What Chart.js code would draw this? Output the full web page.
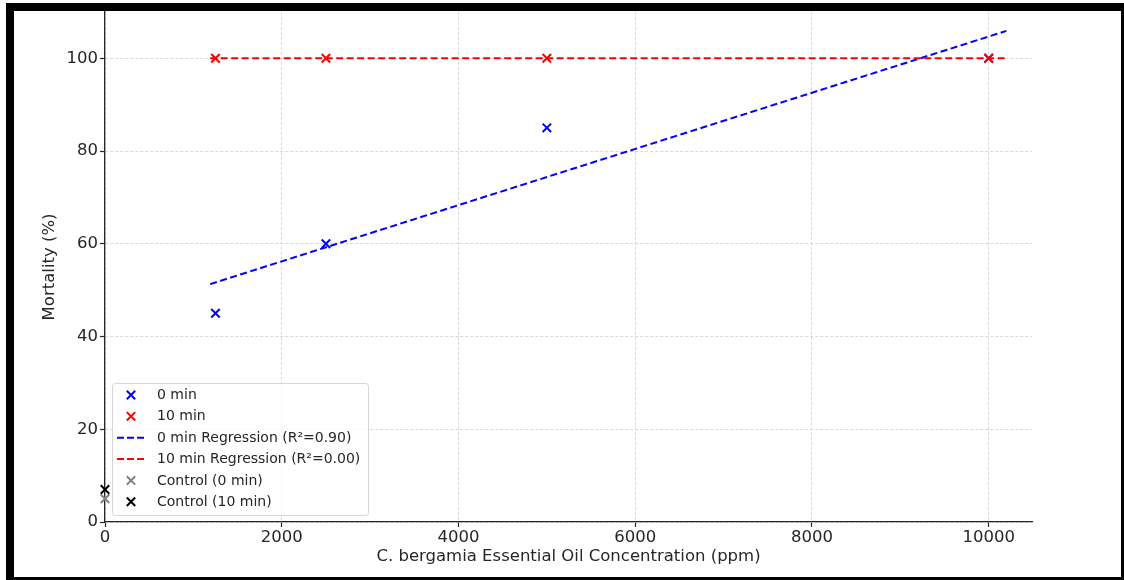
<!DOCTYPE html>
<html>
<head>
<meta charset="utf-8">
<script src="https://cdn.jsdelivr.net/npm/chart.js@4/dist/chart.umd.min.js"></script>
<style>
	html, body { margin: 0; padding: 0; background: #fff; }
	#wrap { width: 1124px; height: 580px; }
</style>
</head>
<body>
<div id="wrap"><canvas id="mortality-chart" width="1124" height="580"></canvas></div>
<script>
// concentrations (ppm) and mortality (%)
const concentrations = [ 1250, 2500, 5000, 10000 ];
const mortality0 = [ 45, 60, 85, 100 ];
const mortality10 = [ 100, 100, 100, 100 ];
const controlConc = [ 0 ];
const control0 = [ 5 ];
const control10 = [ 7 ];
// regression lines (end points)
const regConc = [ 1190, 10200 ];
const reg0 = [ 51.3, 105.9 ];
const reg10 = [ 100, 100 ];
const xTicks = [ 0, 2000, 4000, 6000, 8000, 10000 ];
const yTicks = [ 0, 20, 40, 60, 80, 100 ];

const FONT = 'DejaVu Sans';
const TEXT = '#262626';

const toPoints = ( xs, ys ) => xs.map( ( x, i ) => ( { x: x, y: ys[ i ] } ) );

const legendItems = [
	{ label: '0 min', color: 'blue', type: 'marker' },
	{ label: '10 min', color: 'red', type: 'marker' },
	{ label: '0 min Regression (R²=0.90)', color: 'blue', type: 'line' },
	{ label: '10 min Regression (R²=0.00)', color: 'red', type: 'line' },
	{ label: 'Control (0 min)', color: 'gray', type: 'marker' },
	{ label: 'Control (10 min)', color: 'black', type: 'marker' },
];

const drawCross = ( ctx, x, y, r, color ) => {
	ctx.save();
	ctx.strokeStyle = color;
	ctx.lineWidth = 2;
	ctx.beginPath();
	ctx.moveTo( x - r, y - r );
	ctx.lineTo( x + r, y + r );
	ctx.moveTo( x - r, y + r );
	ctx.lineTo( x + r, y - r );
	ctx.stroke();
	ctx.restore();
};

const bgFramePlugin = {
	id: 'bgFrame',
	beforeDraw( chart ) {
		const ctx = chart.ctx;
		ctx.save();
		ctx.fillStyle = '#fff';
		ctx.fillRect( 0, 0, chart.width, chart.height );
		ctx.restore();
	},
	afterDraw( chart ) {
		const ctx = chart.ctx;
		// legend box
		ctx.save();
		const bx = 112, by = 383, bw = 256, bh = 132;
		ctx.fillStyle = 'rgba(255,255,255,0.8)';
		ctx.strokeStyle = '#d6d6d6';
		ctx.lineWidth = 1;
		ctx.beginPath();
		ctx.roundRect( bx + 0.5, by + 0.5, bw, bh, 3 );
		ctx.fill();
		ctx.stroke();
		ctx.font = '14px "' + FONT + '"';
		ctx.textBaseline = 'middle';
		ctx.textAlign = 'left';
		legendItems.forEach( ( item, i ) => {
			const cy = 395 + i * 21.35;
			if ( item.type === 'marker' ) {
				drawCross( ctx, 131, cy, 4.2, item.color );
			} else {
				ctx.save();
				ctx.strokeStyle = item.color;
				ctx.lineWidth = 2;
				ctx.setLineDash( [ 7, 3 ] );
				ctx.beginPath();
				ctx.moveTo( 117, cy );
				ctx.lineTo( 145, cy );
				ctx.stroke();
				ctx.restore();
			}
			ctx.fillStyle = TEXT;
			ctx.fillText( item.label, 157, cy + 0.5 );
		} );
		ctx.restore();
		// black frame round the picture
		ctx.save();
		ctx.fillStyle = '#000';
		ctx.fillRect( 6, 3, chart.width - 6, 8 );
		ctx.fillRect( 6, 3, 8, chart.height - 3 );
		ctx.fillRect( 1121, 3, 3, chart.height - 3 );
		ctx.fillRect( 6, 577, chart.width - 6, 3 );
		ctx.restore();
	},
};

const lineSet = ( label, xs, ys, color, order ) => ( {
	label: label,
	data: toPoints( xs, ys ),
	showLine: true,
	borderColor: color,
	backgroundColor: color,
	borderWidth: 2,
	borderDash: [ 7, 3.5 ],
	pointRadius: 0,
	clip: false,
	order: order,
} );

const markerSet = ( label, xs, ys, color, order ) => ( {
	label: label,
	data: toPoints( xs, ys ),
	showLine: false,
	pointStyle: 'crossRot',
	pointRadius: 6,
	borderColor: color,
	backgroundColor: color,
	pointBorderWidth: 2,
	clip: false,
	order: order,
} );

document.addEventListener( 'DOMContentLoaded', function () {
	const canvas = document.getElementById( 'mortality-chart' );
	// lower order is drawn on top
	new Chart( canvas, {
		type: 'scatter',
		data: {
			datasets: [
				markerSet( '0 min', concentrations, mortality0, 'blue', 5 ),
				markerSet( '10 min', concentrations, mortality10, 'red', 4 ),
				lineSet( '0 min Regression (R²=0.90)', regConc, reg0, 'blue', 3 ),
				lineSet( '10 min Regression (R²=0.00)', regConc, reg10, 'red', 2 ),
				markerSet( 'Control (0 min)', controlConc, control0, 'gray', 1 ),
				markerSet( 'Control (10 min)', controlConc, control10, 'black', 0 ),
			],
		},
		options: {
			responsive: false,
			animation: false,
			devicePixelRatio: 1,
			layout: {
				padding: { top: 11, right: 92, left: 0, bottom: 0 },
			},
			plugins: {
				legend: { display: false },
				tooltip: { enabled: false },
			},
			scales: {
				x: {
					type: 'linear',
					min: 0,
					max: 10490,
					afterFit: ( scale ) => {
						scale.height = 58;
					},
					afterBuildTicks: ( scale ) => {
						scale.ticks = xTicks.map( ( v ) => ( { value: v } ) );
					},
					ticks: {
						font: { family: FONT, size: 16.5 },
						color: TEXT,
						padding: 1,
						maxRotation: 0,
						autoSkip: false,
						callback: ( v ) => String( v ),
					},
					grid: {
						color: '#d4d4d4',
						lineWidth: 0.9,
						tickColor: '#262626',
						tickLength: 5,
						tickWidth: 1.2,
					},
					border: {
						color: '#262626',
						width: 1.3,
						dash: [ 3, 2 ],
					},
					title: {
						display: true,
						text: 'C. bergamia Essential Oil Concentration (ppm)',
						font: { family: FONT, size: 16.5 },
						color: TEXT,
						padding: { top: 0, bottom: 13 },
					},
				},
				y: {
					type: 'linear',
					min: 0,
					max: 110,
					afterFit: ( scale ) => {
						scale.width = 105;
					},
					afterBuildTicks: ( scale ) => {
						scale.ticks = yTicks.map( ( v ) => ( { value: v } ) );
					},
					ticks: {
						font: { family: FONT, size: 16.5 },
						color: TEXT,
						padding: 2,
						autoSkip: false,
						callback: ( v ) => String( v ),
					},
					grid: {
						color: '#d4d4d4',
						lineWidth: 0.9,
						tickColor: '#262626',
						tickLength: 5,
						tickWidth: 1.2,
					},
					border: {
						color: '#262626',
						width: 1.3,
						dash: [ 3, 2 ],
					},
					title: {
						display: true,
						text: 'Mortality (%)',
						font: { family: FONT, size: 16.5 },
						color: TEXT,
						padding: { top: 40, bottom: 0 },
					},
				},
			},
		},
		plugins: [ bgFramePlugin ],
	} );
} );
</script>
</body>
</html>
